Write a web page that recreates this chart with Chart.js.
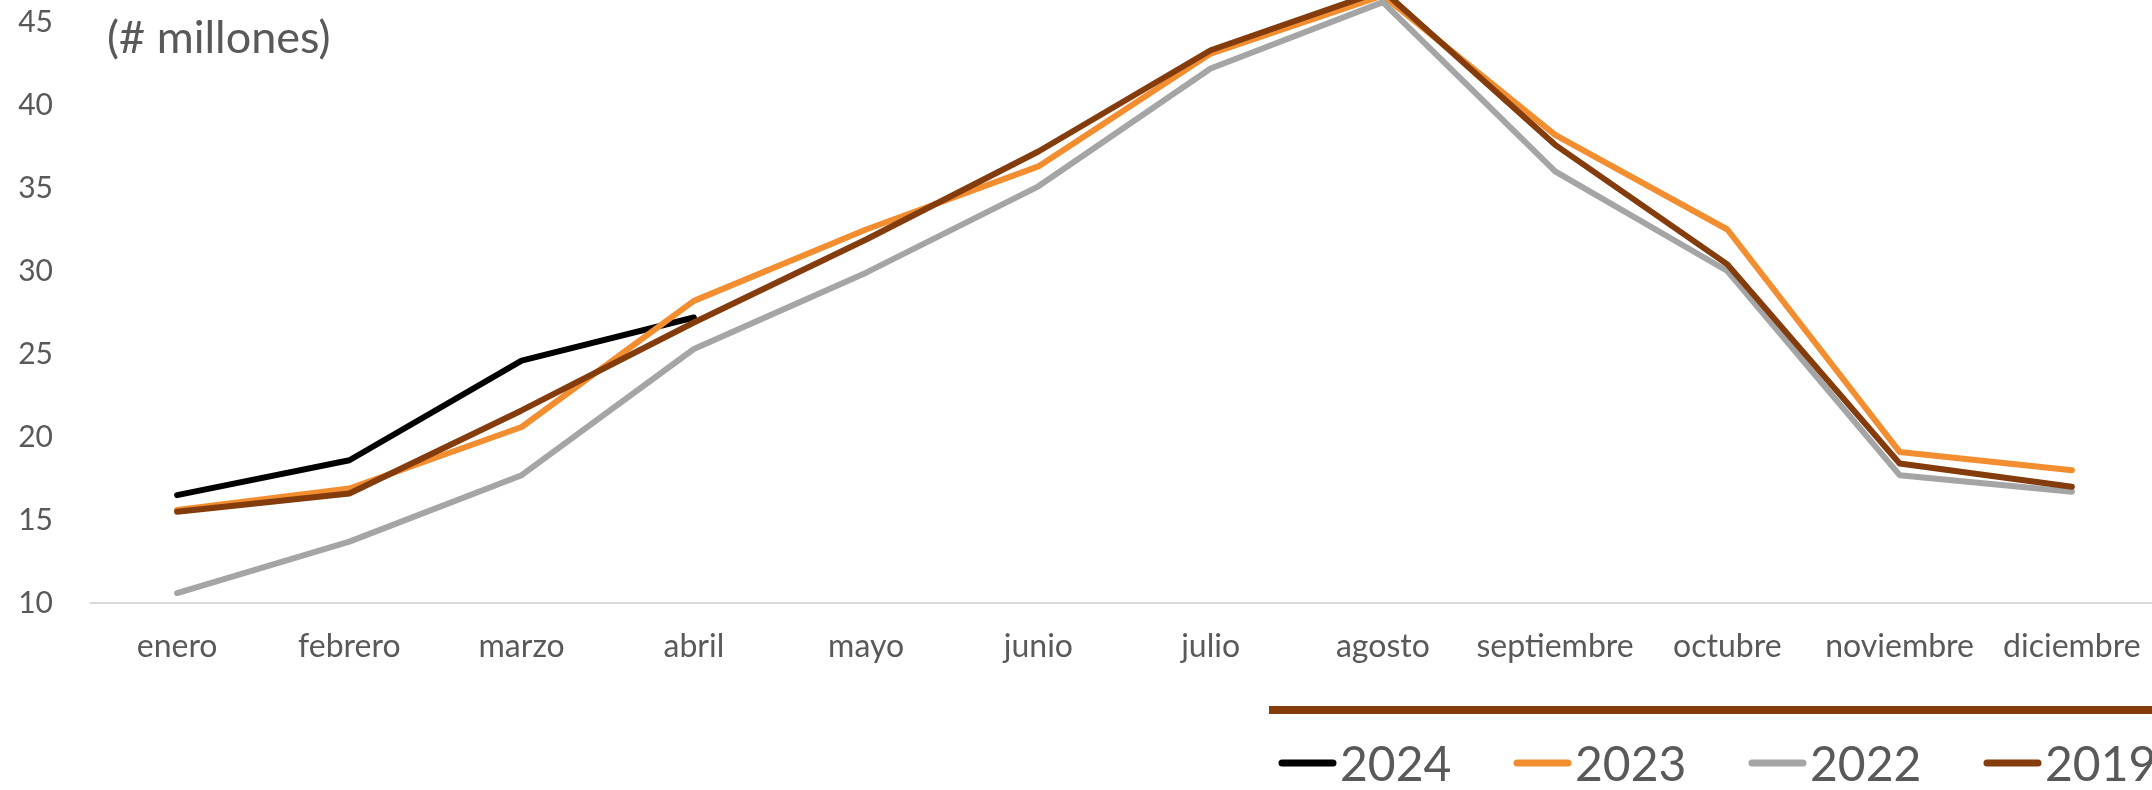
<!DOCTYPE html>
<html>
<head>
<meta charset="utf-8">
<script src="https://cdn.jsdelivr.net/npm/chart.js@4.4.1/dist/chart.umd.min.js"></script>
<style>
  body { margin: 0; background: #fff; overflow: hidden; }
  #grafico { display: block; }
</style>
</head>
<body>
<canvas id="grafico" width="2200" height="790"></canvas>
<script>
// meses y pasajeros mensuales (# millones)
const meses = ['enero', 'febrero', 'marzo', 'abril', 'mayo', 'junio', 'julio', 'agosto', 'septiembre', 'octubre', 'noviembre', 'diciembre'];
const anios = ['2024', '2023', '2022', '2019'];
const datos2024 = [16.5, 18.6, 24.6, 27.2, null, null, null, null, null, null, null, null];
const datos2023 = [15.6, 16.9, 20.6, 28.2, 32.5, 36.3, 43.1, 46.6, 38.2, 32.5, 19.1, 18.0];
const datos2022 = [10.6, 13.7, 17.7, 25.3, 29.9, 35.1, 42.2, 46.2, 36.0, 30.0, 17.7, 16.7];
const datos2019 = [15.5, 16.6, 21.6, 26.9, 31.9, 37.2, 43.3, 46.9, 37.6, 30.4, 18.4, 17.0];
const colores = ['#000000', '#F28E30', '#A5A5A5', '#843C0C'];
const subtitulo = '(# millones)';

const gris = '#595959';
const fuente = 'Lato';

function serie(i, valores) {
    return {
        label: anios[i], data: valores,
        borderColor: colores[i], backgroundColor: colores[i],
        borderWidth: 6, pointRadius: 0, tension: 0,
        borderCapStyle: 'round', borderJoinStyle: 'round',
        clip: false, spanGaps: false,
        order: anios.length - 1 - i
    };
}

// subtítulo, barra marrón y leyenda dibujados a mano
const extras = {
    id: 'extras',
    afterDraw(chart) {
        const ctx = chart.ctx;
        ctx.save();
        ctx.fillStyle = gris;
        ctx.font = '45px ' + fuente;
        ctx.textBaseline = 'alphabetic';
        ctx.fillText(subtitulo, 107, 53);

        ctx.fillStyle = '#843C0C';
        ctx.fillRect(1269, 706, chart.width - 1269, 8);

        ctx.font = '48px ' + fuente;
        chart.data.datasets.forEach((ds, i) => {
            const x = 1282 + i * 235;
            ctx.strokeStyle = ds.borderColor;
            ctx.lineWidth = 7;
            ctx.lineCap = 'round';
            ctx.beginPath();
            ctx.moveTo(x, 763);
            ctx.lineTo(x + 51, 763);
            ctx.stroke();
            ctx.fillStyle = gris;
            ctx.fillText(ds.label, x + 58, 781);
        });
        ctx.restore();
    }
};

new Chart(document.getElementById('grafico'), {
    type: 'line',
    data: {
        labels: meses,
        datasets: [serie(0, datos2024), serie(1, datos2023), serie(2, datos2022), serie(3, datos2019)]
    },
    options: {
        responsive: false,
        animation: false,
        layout: { padding: { top: 22, right: 42, left: 0, bottom: 0 } },
        scales: {
            x: {
                offset: true,
                grid: { display: false, drawTicks: false, offset: true },
                border: { display: true, color: '#D9D9D9', width: 2 },
                ticks: { color: gris, font: { family: fuente, size: 32 }, padding: 24, maxRotation: 0, autoSkip: false },
                afterFit: s => { s.height = 187; s.paddingLeft = 0; s.paddingRight = 0; }
            },
            y: {
                min: 10, max: 45,
                grid: { display: false, drawTicks: false },
                border: { display: false },
                ticks: { stepSize: 5, color: gris, font: { family: fuente, size: 30 }, padding: 38 },
                afterFit: s => { s.width = 91; s.paddingTop = 0; s.paddingBottom = 0; }
            }
        },
        plugins: { legend: { display: false }, tooltip: { enabled: false } }
    },
    plugins: [extras]
});
</script>
</body>
</html>
